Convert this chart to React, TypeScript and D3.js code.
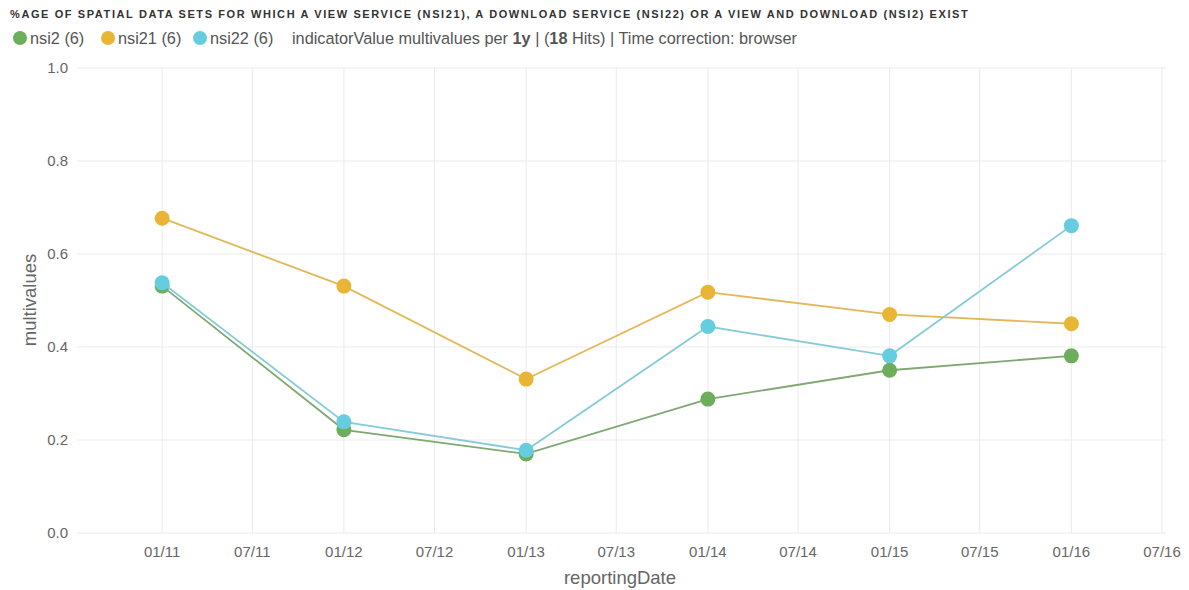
import React from "react";
import * as d3 from "d3";

const seriesNames = ["nsi2", "nsi21", "nsi22"];
const seriesColors = ["#6dae5c", "#e8b534", "#66cce0"];
const lineColors = ["#7fa872", "#e3b85a", "#86cbd8"];
const years = ["2011-01-01", "2012-01-01", "2013-01-01", "2014-01-01", "2015-01-01", "2016-01-01"];
const nsi2 = [0.531, 0.222, 0.17, 0.288, 0.35, 0.381];
const nsi21 = [0.677, 0.531, 0.331, 0.518, 0.47, 0.45];
const nsi22 = [0.538, 0.239, 0.178, 0.444, 0.381, 0.661];
const seriesValues = [nsi2, nsi21, nsi22];
const yTicks = [0, 0.2, 0.4, 0.6, 0.8, 1.0];
const titleText =
  "%AGE OF SPATIAL DATA SETS FOR WHICH A VIEW SERVICE (NSI21), A DOWNLOAD SERVICE (NSI22) OR A VIEW AND DOWNLOAD (NSI2) EXIST";

const W = 1189;
const H = 590;
const left = 77;
const right = 1166;
const top = 68;
const bottom = 533;

export default function App() {
  const parse = d3.utcParse("%Y-%m-%d");
  const dates = years.map((d) => parse(d) as Date);
  const x = d3
    .scaleUtc()
    .domain([parse("2010-07-14") as Date, parse("2016-07-09") as Date])
    .range([left, right]);
  const y = d3.scaleLinear().domain([0, 1]).range([bottom, top]);
  const xTicks = x.ticks(d3.utcMonth.every(6) as any);
  const fmt = d3.utcFormat("%m/%y");
  const line = d3
    .line<number>()
    .x((_, i) => x(dates[i]))
    .y((v) => y(v));
  const font = "'Liberation Sans', Arial, sans-serif";
  const legendX = [20, 108, 200];
  return (
    <svg
      width={W}
      height={H}
      style={{ position: "absolute", left: 0, top: 0, background: "#fff" }}
      fontFamily={font}
    >
      <text x={10} y={18} fontSize={11} fontWeight="bold" fill="#333" letterSpacing={1.6}>
        {titleText}
      </text>
      {seriesNames.map((n, i) => (
        <g key={n}>
          <circle cx={legendX[i]} cy={38} r={7} fill={seriesColors[i]} />
          <text x={legendX[i] + 10} y={44} fontSize={16.3} fill="#555">
            {`${n} (${seriesValues[i].length})`}
          </text>
        </g>
      ))}
      <text x={292} y={44} fontSize={16.3} fill="#555">
        indicatorValue multivalues per <tspan fontWeight="bold">1y</tspan> | (
        <tspan fontWeight="bold">18</tspan> Hits) | Time correction: browser
      </text>
      <g>
        {yTicks.map((t) => (
          <line key={"h" + t} x1={left} x2={right} y1={y(t)} y2={y(t)} stroke="#ebebeb" strokeWidth={1} />
        ))}
        {xTicks.map((t) => (
          <line key={"v" + +t} x1={x(t)} x2={x(t)} y1={top} y2={bottom} stroke="#ebebeb" strokeWidth={1} />
        ))}
      </g>
      {yTicks.map((t) => (
        <text key={"yl" + t} x={68} y={y(t) + 5} textAnchor="end" fontSize={15} fill="#666">
          {t.toFixed(1)}
        </text>
      ))}
      {xTicks.map((t) => (
        <text key={"xl" + +t} x={x(t)} y={557} textAnchor="middle" fontSize={15} fill="#666">
          {fmt(t)}
        </text>
      ))}
      <text x={620} y={584} textAnchor="middle" fontSize={18.5} fill="#666">
        reportingDate
      </text>
      <text transform="translate(36,300) rotate(-90)" textAnchor="middle" fontSize={18.5} fill="#666">
        multivalues
      </text>
      {seriesValues.map((vals, i) => (
        <g key={"s" + i}>
          <path d={line(vals) as string} fill="none" stroke={lineColors[i]} strokeWidth={1.8} />
          {vals.map((v, j) => (
            <circle key={j} cx={x(dates[j])} cy={y(v)} r={7.5} fill={seriesColors[i]} />
          ))}
        </g>
      ))}
    </svg>
  );
}
